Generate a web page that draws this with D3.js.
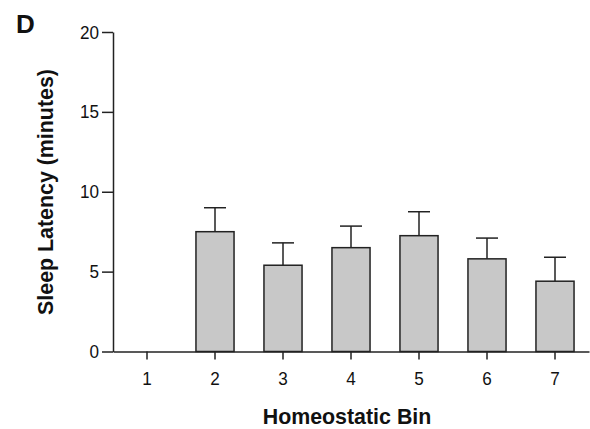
<!DOCTYPE html>
<html>
<head>
<meta charset="utf-8">
<script src="https://cdn.jsdelivr.net/npm/d3@7"></script>
<style>
  body { margin: 0; background: #fff; }
  text { font-family: "Liberation Sans", Arial, sans-serif; fill: #111; }
</style>
</head>
<body>
<div id="graph"></div>
<script>
// données
var bins = ["1", "2", "3", "4", "5", "6", "7"];
var means = [null, 7.5, 5.4, 6.5, 7.25, 5.8, 4.4];
var errors = [null, 1.5, 1.4, 1.35, 1.5, 1.3, 1.5];
var yTicks = [0, 5, 10, 15, 20];

var totalWidth = 590, totalHeight = 429;
var squeeze = 0.9; // police un peu condensée comme l'original

var svg = d3.select("#graph").append("svg")
    .attr("width", totalWidth)
    .attr("height", totalHeight);

// échelles
var x = d3.scaleBand()
    .domain(bins)
    .range([113, 589])
    .paddingInner(0.44)
    .paddingOuter(0.22);
var y = d3.scaleLinear()
    .domain([0, 20])
    .range([351.5, 32]);

var donnees = bins.map(function(b, i) {
    return {bin: b, mean: means[i], err: errors[i]};
}).filter(function(d) { return d.mean !== null; });

// barres d'erreur (dessinées avant les barres)
var capW = 22;
svg.selectAll(".err").data(donnees).enter().append("line")
    .attr("x1", function(d) { return x(d.bin) + x.bandwidth() / 2; })
    .attr("x2", function(d) { return x(d.bin) + x.bandwidth() / 2; })
    .attr("y1", function(d) { return y(d.mean); })
    .attr("y2", function(d) { return y(d.mean + d.err); })
    .attr("stroke", "#222")
    .attr("stroke-width", 1.5);
svg.selectAll(".cap").data(donnees).enter().append("line")
    .attr("x1", function(d) { return x(d.bin) + x.bandwidth() / 2 - capW / 2; })
    .attr("x2", function(d) { return x(d.bin) + x.bandwidth() / 2 + capW / 2; })
    .attr("y1", function(d) { return y(d.mean + d.err); })
    .attr("y2", function(d) { return y(d.mean + d.err); })
    .attr("stroke", "#222")
    .attr("stroke-width", 1.5);

// barres
svg.selectAll(".bar").data(donnees).enter().append("rect")
    .attr("x", function(d) { return x(d.bin); })
    .attr("y", function(d) { return y(d.mean); })
    .attr("width", x.bandwidth())
    .attr("height", function(d) { return y(0) - y(d.mean); })
    .attr("fill", "#c8c8c8")
    .attr("stroke", "#222")
    .attr("stroke-width", 1.5);

// axes
var gx = svg.append("g")
    .attr("transform", "translate(0," + y(0) + ")")
    .call(d3.axisBottom(x).tickSizeInner(8).tickSizeOuter(0).tickPadding(10));
var gy = svg.append("g")
    .attr("transform", "translate(113,0)")
    .call(d3.axisLeft(y).tickValues(yTicks).tickSizeInner(11).tickSizeOuter(0).tickPadding(3));
[gx, gy].forEach(function(g) {
    g.selectAll("path, line").attr("stroke", "#222").attr("stroke-width", 1.5);
    g.selectAll("text")
        .attr("font-size", "19px")
        .attr("font-family", "Liberation Sans, Arial, sans-serif")
        .attr("fill", "#111");
});
gx.selectAll("text").attr("y", 20).attr("transform", "scale(" + squeeze + ",1)");
gy.selectAll("text").attr("x", -14 / squeeze).attr("transform", "scale(" + squeeze + ",1)");

// titres
function titre(txt, tx, ty, rot, size, sx) {
    svg.append("text")
        .attr("transform", "translate(" + tx + "," + ty + ") rotate(" + rot + ") scale(" + sx + ",1)")
        .attr("text-anchor", "middle")
        .attr("font-weight", "bold")
        .attr("font-size", size)
        .text(txt);
}
titre("Homeostatic Bin", 347, 424, 0, "23px", 0.93);
titre("Sleep Latency (minutes)", 53, 192, -90, "23px", 0.93);

svg.append("text")
    .attr("x", 16)
    .attr("y", 33)
    .attr("font-weight", "bold")
    .attr("font-size", "26px")
    .text("D");
</script>
</body>
</html>
